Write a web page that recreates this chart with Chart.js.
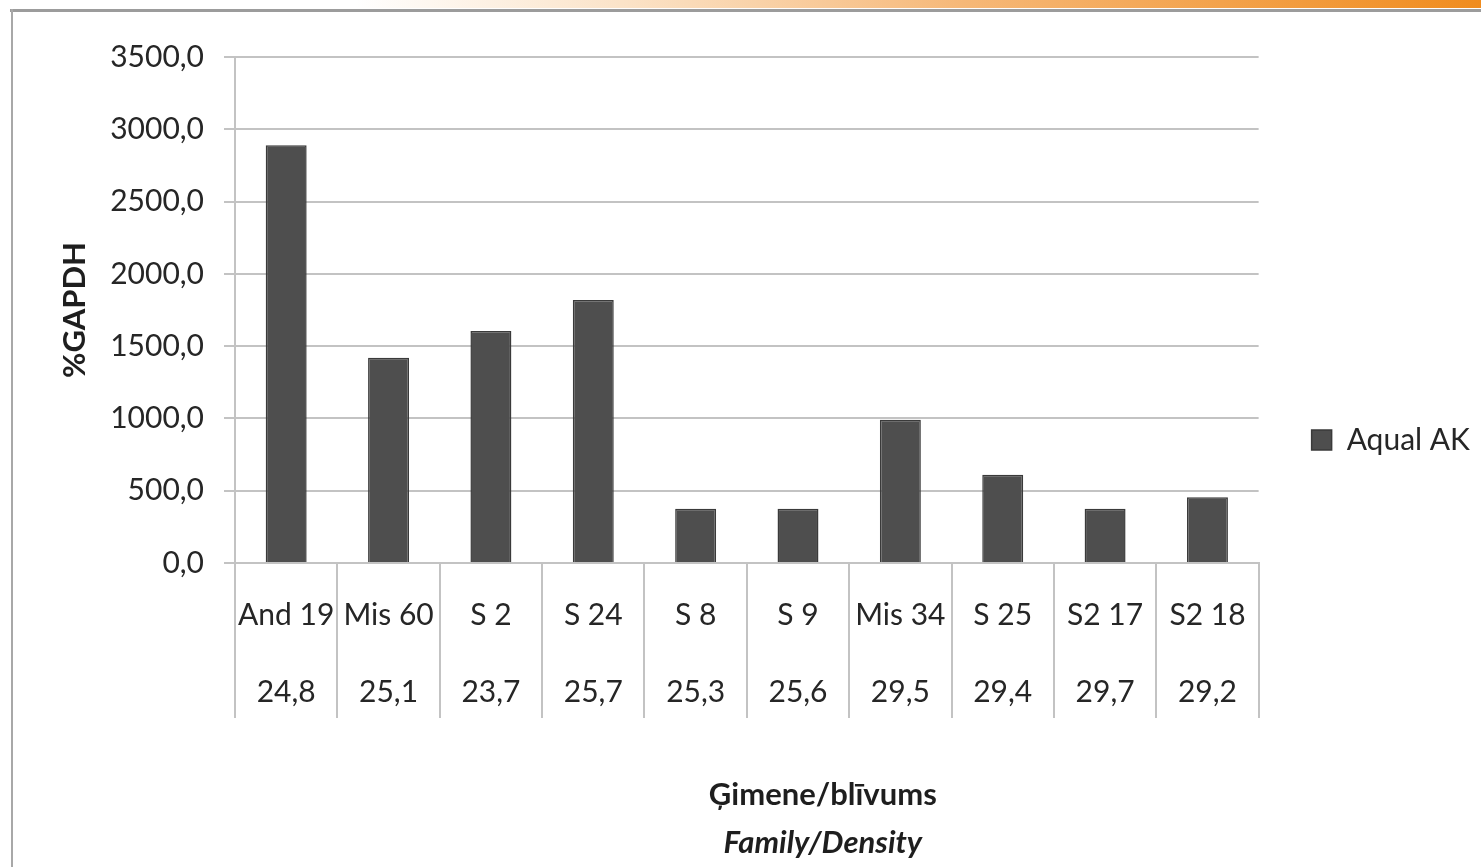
<!DOCTYPE html>
<html>
<head>
<meta charset="utf-8">
<script src="https://cdn.jsdelivr.net/npm/chart.js@4"></script>
<style>
  html, body { margin: 0; padding: 0; background: #fff; }
  #page { position: relative; width: 1481px; height: 867px; overflow: hidden; background: #fff; }
  #topbar { position: absolute; left: 0; top: 0; width: 1481px; height: 8px;
    background: linear-gradient(to right, #ffffff 0%, #ffffff 24%, #fbe3c8 42%, #f6b878 65%, #f08c1e 100%); }
  #topline { position: absolute; left: 10px; top: 9px; width: 1471px; height: 3px; background: #9c9c9c; }
  #leftline { position: absolute; left: 11px; top: 9px; width: 2px; height: 858px; background: #a8a8a8; }
  #wrap { position: absolute; left: 0; top: 0; width: 1481px; height: 867px; }
</style>
</head>
<body>
<div id="page">
  <div id="topbar"></div>
  <div id="topline"></div>
  <div id="leftline"></div>
  <div id="wrap"><canvas id="c" width="1481" height="867"></canvas></div>
</div>
<script>
const categories = ["And 19", "Mis 60", "S 2", "S 24", "S 8", "S 9", "Mis 34", "S 25", "S2 17", "S2 18"];
const densities = ["24,8", "25,1", "23,7", "25,7", "25,3", "25,6", "29,5", "29,4", "29,7", "29,2"];
const aqualAK = [2890, 1420, 1605, 1820, 375, 375, 990, 610, 375, 455];
const seriesName = "Aqual AK";
const yTitle = "%GAPDH";
const xTitleLine1 = "Ģimene/blīvums";
const xTitleLine2 = "Family/Density";

const FONT = "Lato, 'Open Sans', 'DejaVu Sans', sans-serif";
const TEXT = "#262626";
const GRID = "#c3c3c3";

const xTitlePlugin = {
  id: 'xTitles',
  afterDraw(chart) {
    const ctx = chart.ctx;
    const ca = chart.chartArea;
    const cx = (ca.left + ca.right) / 2 + 76;
    ctx.save();
    ctx.fillStyle = "#1e1e1e";
    ctx.textAlign = 'center';
    ctx.textBaseline = 'middle';
    ctx.font = "bold 31px " + FONT;
    ctx.fillText(xTitleLine1, cx, ca.bottom + 232);
    ctx.font = "italic bold 31px " + FONT;
    ctx.fillText(xTitleLine2, cx, ca.bottom + 280);
    ctx.restore();
  }
};

new Chart(document.getElementById('c'), {
  type: 'bar',
  data: {
    labels: categories.map((c, i) => [c, densities[i]]),
    datasets: [{
      label: seriesName,
      data: aqualAK,
      backgroundColor: '#4e4e4e',
      borderColor: '#3a3a3a',
      borderWidth: 1.5,
      barPercentage: 0.4,
      categoryPercentage: 1.0
    }]
  },
  options: {
    responsive: false,
    animation: false,
    events: [],
    layout: { padding: { top: 57, left: 52, right: 1, bottom: 44 } },
    plugins: {
      tooltip: { enabled: false },
      title: { display: false },
      legend: {
        position: 'right',
        labels: {
          boxWidth: 20, boxHeight: 20, padding: 53,
          color: TEXT,
          font: { family: FONT, size: 30 }
        }
      }
    },
    scales: {
      x: {
        grid: {
          display: true, drawOnChartArea: false, drawTicks: true,
          offset: true, tickLength: 155, color: GRID, lineWidth: 2
        },
        border: { display: true, color: GRID, width: 2 },
        ticks: {
          color: TEXT, padding: -141, maxRotation: 0, autoSkip: false,
          font: { family: FONT, size: 30, lineHeight: 2.57 }
        },
        afterFit(scale) { scale.height = 260; }
      },
      y: {
        min: 0, max: 3500,
        ticks: {
          stepSize: 500, color: TEXT, padding: 20,
          font: { family: FONT, size: 30 },
          callback: v => v.toFixed(1).replace('.', ',')
        },
        grid: { color: GRID, lineWidth: 2, tickLength: 11, drawTicks: true },
        border: { display: true, color: GRID, width: 2 },
        title: {
          display: true, text: yTitle, color: "#1e1e1e",
          font: { family: FONT, size: 31, weight: 'bold' },
          padding: { top: 4, bottom: 0 }
        },
        afterFit(scale) { scale.width = 235 - 52; }
      }
    }
  },
  plugins: [xTitlePlugin]
});
</script>
</body>
</html>
